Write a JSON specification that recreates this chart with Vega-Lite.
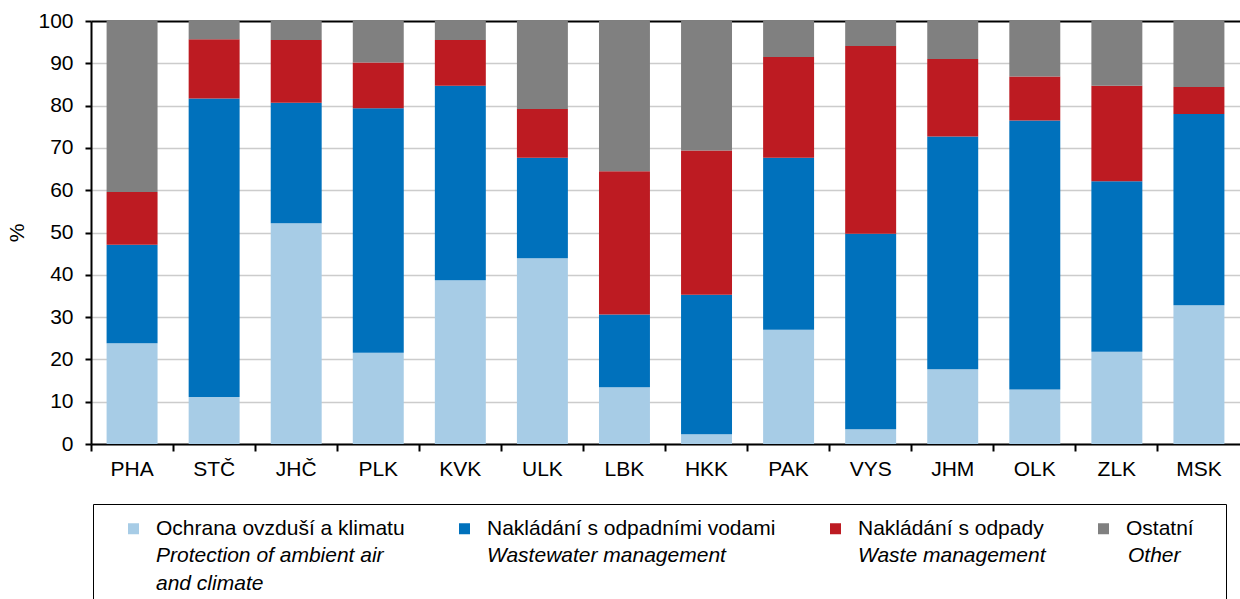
{
  "$schema": "https://vega.github.io/schema/vega-lite/v6.json",
  "width": 1149,
  "height": 423,
  "autosize": {"type": "none"},
  "padding": {"left": 91, "top": 21, "right": 0, "bottom": 155},
  "background": "white",
  "config": {
    "font": "Liberation Sans",
    "view": {"stroke": null},
    "style": {"guide-label": {"lineHeight": 28}}
  },
  "datasets": {
    "series": [
      {"key": "a", "cz": "Ochrana ovzduší a klimatu", "en": "Protection of ambient air and climate", "k": 1},
      {"key": "w", "cz": "Nakládání s odpadními vodami", "en": "Wastewater management", "k": 2},
      {"key": "o", "cz": "Nakládání s odpady", "en": "Waste management", "k": 3},
      {"key": "x", "cz": "Ostatní", "en": "Other", "k": 4}
    ]
  },
  "data": {
    "values": [
      {"kraj": "PHA", "a": 23.8, "w": 23.3, "o": 12.5, "x": 40.4},
      {"kraj": "STČ", "a": 11.1, "w": 70.6, "o": 14.0, "x": 4.3},
      {"kraj": "JHČ", "a": 52.2, "w": 28.5, "o": 14.8, "x": 4.5},
      {"kraj": "PLK", "a": 21.6, "w": 57.8, "o": 10.8, "x": 9.8},
      {"kraj": "KVK", "a": 38.7, "w": 46.0, "o": 10.8, "x": 4.5},
      {"kraj": "ULK", "a": 43.9, "w": 23.8, "o": 11.5, "x": 20.8},
      {"kraj": "LBK", "a": 13.4, "w": 17.2, "o": 33.9, "x": 35.5},
      {"kraj": "HKK", "a": 2.3, "w": 33.0, "o": 34.1, "x": 30.6},
      {"kraj": "PAK", "a": 27.0, "w": 40.7, "o": 23.8, "x": 8.5},
      {"kraj": "VYS", "a": 3.5, "w": 46.2, "o": 44.4, "x": 5.9},
      {"kraj": "JHM", "a": 17.7, "w": 55.0, "o": 18.3, "x": 9.0},
      {"kraj": "OLK", "a": 12.9, "w": 63.6, "o": 10.4, "x": 13.1},
      {"kraj": "ZLK", "a": 21.8, "w": 40.3, "o": 22.6, "x": 15.3},
      {"kraj": "MSK", "a": 32.8, "w": 45.2, "o": 6.4, "x": 15.6}
    ]
  },
  "transform": [
    {"fold": ["a", "w", "o", "x"], "as": ["key", "value"]},
    {"lookup": "key", "from": {"data": {"name": "series"}, "key": "key", "fields": ["cz", "en", "k"]}}
  ],
  "mark": {"type": "bar"},
  "encoding": {
    "x": {
      "field": "kraj",
      "type": "nominal",
      "sort": null,
      "scale": {"paddingInner": 0.379, "paddingOuter": 0.19},
      "axis": {
        "title": null,
        "labelAngle": 0,
        "labelFontSize": 21,
        "labelColor": "black",
        "domainColor": "black",
        "domainWidth": 2,
        "tickColor": "black",
        "tickWidth": 2,
        "tickSize": 7,
        "bandPosition": -0.305,
        "labelPadding": 7,
        "grid": false
      }
    },
    "y": {
      "field": "value",
      "type": "quantitative",
      "stack": "zero",
      "scale": {"domain": [0, 100], "nice": false},
      "axis": {
        "title": "%",
        "titleFontSize": 21,
        "titleFontWeight": "normal",
        "titleColor": "black",
        "titlePadding": 10,
        "values": [0, 10, 20, 30, 40, 50, 60, 70, 80, 90, 100],
        "labelFontSize": 21,
        "labelColor": "black",
        "labelPadding": 12,
        "tickSize": 6,
        "tickWidth": 2,
        "tickColor": "black",
        "domainColor": "black",
        "domainWidth": 2,
        "gridColor": {"condition": {"test": "datum.value === 100", "value": "black"}, "value": "#cccccc"},
        "gridWidth": {"condition": {"test": "datum.value === 100", "value": 2}, "value": 1.3}
      }
    },
    "color": {
      "field": "cz",
      "type": "nominal",
      "scale": {
        "domain": ["Ochrana ovzduší a klimatu", "Nakládání s odpadními vodami", "Nakládání s odpady", "Ostatní"],
        "range": ["#a7cce6", "#0071bc", "#bd1b22", "#808080"]
      },
      "legend": {
        "title": null,
        "orient": "none",
        "legendX": 32,
        "legendY": 497,
        "direction": "horizontal",
        "columns": 4,
        "columnPadding": 49,
        "symbolType": "square",
        "symbolSize": 121,
        "symbolStrokeWidth": 0,
        "labelFontSize": 21,
        "labelColor": "black",
        "labelOffset": 12,
        "labelLimit": 500,
        "padding": 0
      }
    },
    "opacity": {
      "field": "en",
      "type": "nominal",
      "scale": {
        "domain": ["Protection of ambient air and climate", "Wastewater management", "Waste management", "Other"],
        "range": [1, 1]
      },
      "legend": {
        "title": null,
        "orient": "none",
        "legendX": 2,
        "legendY": 483,
        "direction": "horizontal",
        "columns": 4,
        "columnPadding": 49,
        "symbolType": "M0,0",
        "symbolSize": 121,
        "symbolStrokeWidth": 0,
        "labelFontSize": 21,
        "labelFontStyle": "italic",
        "labelColor": "black",
        "labelOffset": 12,
        "labelLimit": 500,
        "labelBaseline": "top",
        "padding": 30,
        "strokeColor": "black",
        "labelExpr": "datum.label === 'Protection of ambient air and climate' ? ['Protection of ambient air', 'and climate', '\u2800', 'Ochrana ovzduší a klimatu'] : datum.label === 'Wastewater management' ? ['Wastewater management', '\u2800', '\u2800', 'Nakládání s odpadními vodami'] : datum.label === 'Waste management' ? ['Waste management', '\u2800', '\u2800', 'Nakládání s odpady'] : ['Other', '\u2800', '\u2800', 'Ostatní']"
      }
    },
    "order": {"field": "k", "type": "quantitative"}
  }
}
